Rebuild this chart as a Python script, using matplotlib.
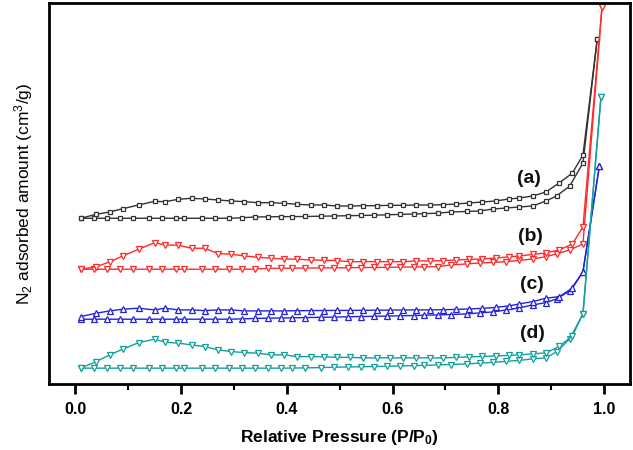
import matplotlib
matplotlib.use("Agg")
import matplotlib.pyplot as plt

plt.rcParams["font.family"] = ["Liberation Sans", "DejaVu Sans"]
plt.rcParams["mathtext.default"] = "regular"

# relative pressure grids (adsorption / desorption branches)
x_ads = [0.01, 0.035, 0.06, 0.085, 0.11, 0.14, 0.165, 0.19, 0.205, 0.24,
         0.265, 0.29, 0.315, 0.34, 0.365, 0.39, 0.41, 0.435, 0.465, 0.49,
         0.515, 0.54, 0.565, 0.59, 0.615, 0.64, 0.66, 0.685, 0.71, 0.74,
         0.765, 0.79, 0.815, 0.84, 0.865, 0.89, 0.91, 0.935, 0.96, 0.99]
x_des = [0.01, 0.04, 0.065, 0.09, 0.12, 0.15, 0.17, 0.195, 0.22, 0.245,
         0.27, 0.295, 0.32, 0.345, 0.37, 0.395, 0.42, 0.445, 0.47, 0.495,
         0.52, 0.545, 0.57, 0.595, 0.62, 0.645, 0.67, 0.695, 0.72, 0.745,
         0.77, 0.795, 0.82, 0.84, 0.865, 0.89, 0.915, 0.94, 0.96, 0.99]

# last point (P/P0) of each sample
x_top = [0.987, 0.996, 0.991, 0.994]

# amounts (arbitrary units, curves offset)
a_ads = [165.7, 165.7, 165.7, 165.7, 165.7, 165.7, 165.7, 165.7, 165.7, 165.7,
         165.7, 165.7, 166.2, 167, 167.2, 167.3, 167.4, 167.5, 167.8, 168,
         168.3, 168.5, 168.8, 169.2, 169.6, 170, 170.4, 170.7, 172, 172.5,
         173, 175, 176, 177, 178, 183, 188, 198, 221, 345]
a_des = [165.7, 169.7, 172, 175.3, 179, 182.7, 182.3, 184.7, 185.7, 185,
         184, 183, 182.3, 181.3, 181.3, 180.7, 179.7, 179, 179, 178,
         178, 178.3, 178.3, 178.7, 178.7, 179, 179, 179.3, 180, 181,
         182, 183, 185, 186, 188, 192, 201, 211, 229, 345]

b_ads = [114.7, 114.7, 114.7, 114.7, 114.7, 114.7, 114.7, 114.7, 114.7, 114.7,
         114.7, 114.7, 114.7, 114.9, 115.5, 115.7, 115.8, 115.9, 116, 116.1,
         116.2, 116.4, 116.5, 116.6, 116.8, 117, 117.1, 117.3, 119, 120,
         121, 121.5, 122.3, 123.5, 125, 127.3, 130, 134, 140, 377]
b_des = [114.7, 117.3, 122, 128, 134.7, 141.3, 139, 138.7, 135.7, 135.7,
         130.3, 129.7, 128, 126.7, 125.7, 125, 124.7, 124, 123.7, 123.3,
         122.3, 122.3, 122.3, 122.3, 122.3, 123, 123, 123.3, 124, 124.5,
         125, 126, 127, 128, 129.5, 131, 134, 140, 157, 377]

c_ads = [64.7, 64.7, 64.7, 64.7, 64.7, 64.7, 64.7, 64.7, 64.7, 64.7,
         64.7, 64.7, 65, 65.5, 65.7, 65.9, 66.1, 66.3, 66.6, 66.8,
         67.1, 67.4, 67.6, 67.9, 68.1, 68.4, 68.7, 69, 69.4, 70,
         71, 72, 74, 76, 79, 81.3, 85, 93, 112, 218]
c_des = [67.3, 70.7, 73, 74.7, 75.7, 74, 75.7, 74, 74, 73.3,
         74, 74, 73, 73, 73, 73, 73.2, 73.3, 73.4, 73.5,
         73.5, 73.6, 73.7, 73.8, 73.9, 74, 74, 74.2, 74.5, 75,
         75.5, 76.5, 78, 80, 82.3, 85.7, 87.3, 95.7, 112.3, 218]

d_ads = [15.7, 15.7, 15.7, 15.7, 15.7, 15.7, 15.7, 15.7, 15.7, 15.7,
         15.7, 15.7, 15.7, 15.7, 15.7, 15.7, 15.8, 16, 16.3, 16.6,
         16.9, 17.1, 17.3, 17.6, 17.9, 18.2, 18.5, 19, 19.3, 20,
         20.7, 21.5, 22.5, 23.5, 25, 26, 32, 45, 70, 287]
d_des = [15.7, 22.3, 29, 34.7, 41.3, 44.7, 41.7, 40.7, 39, 37.3,
         34, 32.3, 31.3, 30.7, 29, 29, 27.3, 27.3, 27, 26.5,
         26.5, 26, 26, 26, 26, 26, 26, 26, 26.5, 27,
         27.5, 28, 28.5, 29, 30, 31, 37.5, 48, 70, 287]

labels = ["(a)", "(b)", "(c)", "(d)"]
label_pos = [(0.857, 206), (0.861, 147), (0.863, 99), (0.865, 50)]
colors = ["#333333", "#ff2a2a", "#2222dd", "#12a09c"]
markers = ["s", "v", "^", "v"]
msizes = [3.5, 5, 5, 5]

ads = [a_ads, b_ads, c_ads, d_ads]
des = [a_des, b_des, c_des, d_des]

fig = plt.figure(figsize=(6.33, 4.5), dpi=100)
ax = fig.add_axes([0.0774, 0.147, 0.9179, 0.846])

for i in range(4):
    xa = x_ads[:-1] + [x_top[i]]
    xd = x_des[:-1] + [x_top[i]]
    for xx, yy in [(xa, ads[i]), (xd, des[i])]:
        ax.plot(xx, yy, color=colors[i], marker=markers[i], ms=msizes[i],
                mfc="white", mec=colors[i], mew=0.9, lw=1.0)
    ax.text(label_pos[i][0], label_pos[i][1], labels[i], fontsize=14,
            fontweight="bold", ha="center", va="center", color="#111111")

ax.set_xlim(-0.0496, 1.049)
ax.set_ylim(0, 381)
ax.set_xticks([0.0, 0.2, 0.4, 0.6, 0.8, 1.0])
ax.set_xticks([0.1, 0.3, 0.5, 0.7, 0.9], minor=True)
ax.set_xticklabels(["0.0", "0.2", "0.4", "0.6", "0.8", "1.0"],
                   fontsize=11.5, fontweight="bold")
ax.tick_params(axis="x", which="major", direction="out", length=7, width=2, pad=6)
ax.tick_params(axis="x", which="minor", direction="out", length=4, width=1.5)
ax.set_yticks([])
for s in ax.spines.values():
    s.set_linewidth(2)

ax.set_xlabel("Relative Pressure (P/P$_0$)", fontsize=12.5, fontweight="bold",
              labelpad=8)
ax.set_ylabel("N$_2$ adsorbed amount (cm$^3$/g)", fontsize=12.5, labelpad=10)

fig.savefig("out.png", dpi=100)
